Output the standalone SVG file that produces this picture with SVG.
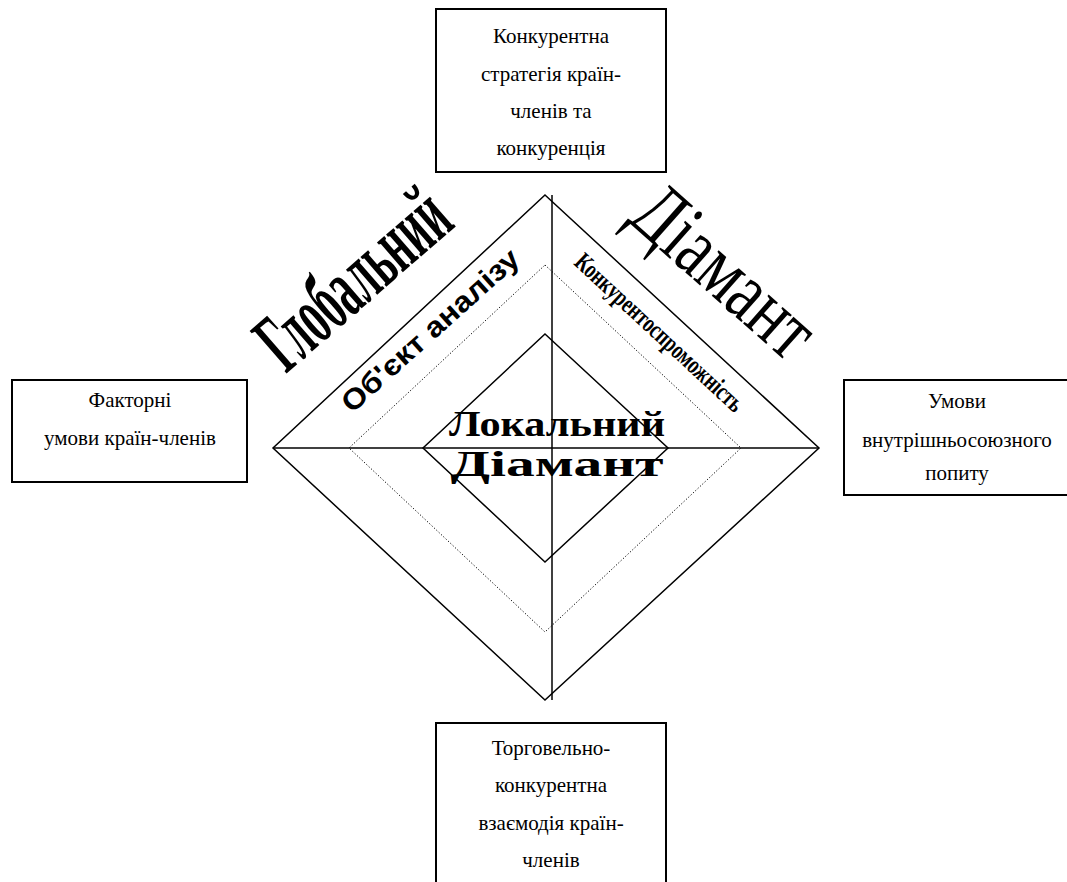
<svg xmlns="http://www.w3.org/2000/svg" width="1067" height="882" viewBox="0 0 1067 882">
<style>
.box{fill:#fff;stroke:#000;stroke-width:2}
.bt{font-family:"Liberation Serif","Times New Roman",serif;font-size:21px;text-anchor:middle;fill:#000}
.ln{fill:none;stroke:#000;stroke-width:1.5}
.dot{fill:none;stroke:#000;stroke-width:1;stroke-dasharray:1.2 2}
.big{font-family:"Liberation Serif","Times New Roman",serif;fill:#000}
</style>
<rect width="1067" height="882" fill="#fff"/>
<g id="connectors">
<polygon class="ln" points="545,195 819,448 545,700 273,448"/>
<polygon class="dot" points="545,265 741,448 545,632 349,448"/>
<polygon class="ln" points="545,334 668,448 545,562 423,448"/>
<line class="ln" x1="552" y1="195" x2="552" y2="700" stroke-width="2"/>
<line class="ln" x1="273" y1="448" x2="819" y2="448" stroke-width="2"/>
</g>
<g id="node-top">
<rect class="box" x="436" y="9" width="230" height="163"/>
<text class="bt" x="551" y="43">Конкурентна</text>
<text class="bt" x="551" y="81">стратегія країн-</text>
<text class="bt" x="551" y="118">членів та</text>
<text class="bt" x="551" y="155">конкуренція</text>
</g>
<g id="node-left">
<rect class="box" x="12" y="380" width="235" height="102"/>
<text class="bt" x="130" y="407">Факторні</text>
<text class="bt" x="130" y="445">умови країн-членів</text>
</g>
<g id="node-right">
<rect class="box" x="844" y="380" width="230" height="115"/>
<text class="bt" x="957" y="408">Умови</text>
<text class="bt" x="957" y="447">внутрішньосоюзного</text>
<text class="bt" x="957" y="480">попиту</text>
</g>
<g id="node-bottom">
<rect class="box" x="436" y="723" width="230" height="170"/>
<text class="bt" x="551" y="755">Торговельно-</text>
<text class="bt" x="551" y="792">конкурентна</text>
<text class="bt" x="551" y="830">взаємодія країн-</text>
<text class="bt" x="551" y="867">членів</text>
</g>
<g id="labels">
<text class="big" font-weight="bold" font-size="86" transform="translate(286,374) rotate(-41)" textLength="226" lengthAdjust="spacingAndGlyphs">Глобальний</text>
<text class="big" font-size="84" transform="translate(626,220) rotate(41.5)" textLength="216" lengthAdjust="spacingAndGlyphs">Діамант</text>
<text font-family="'Liberation Sans',Arial,sans-serif" font-weight="bold" font-size="29" transform="translate(352,414) rotate(-42)" textLength="228" lengthAdjust="spacingAndGlyphs">Об'єкт  аналізу</text>
<text class="big" font-weight="bold" font-size="26" transform="translate(573,264) rotate(42.8)" textLength="220" lengthAdjust="spacingAndGlyphs">Конкурентоспроможність</text>
<text class="big" font-weight="bold" font-size="35" x="557" y="436" text-anchor="middle" textLength="216" lengthAdjust="spacingAndGlyphs">Локальний</text>
<text class="big" font-weight="bold" font-size="35" x="557" y="476" text-anchor="middle" textLength="213" lengthAdjust="spacingAndGlyphs">Діамант</text>
</g>
</svg>
